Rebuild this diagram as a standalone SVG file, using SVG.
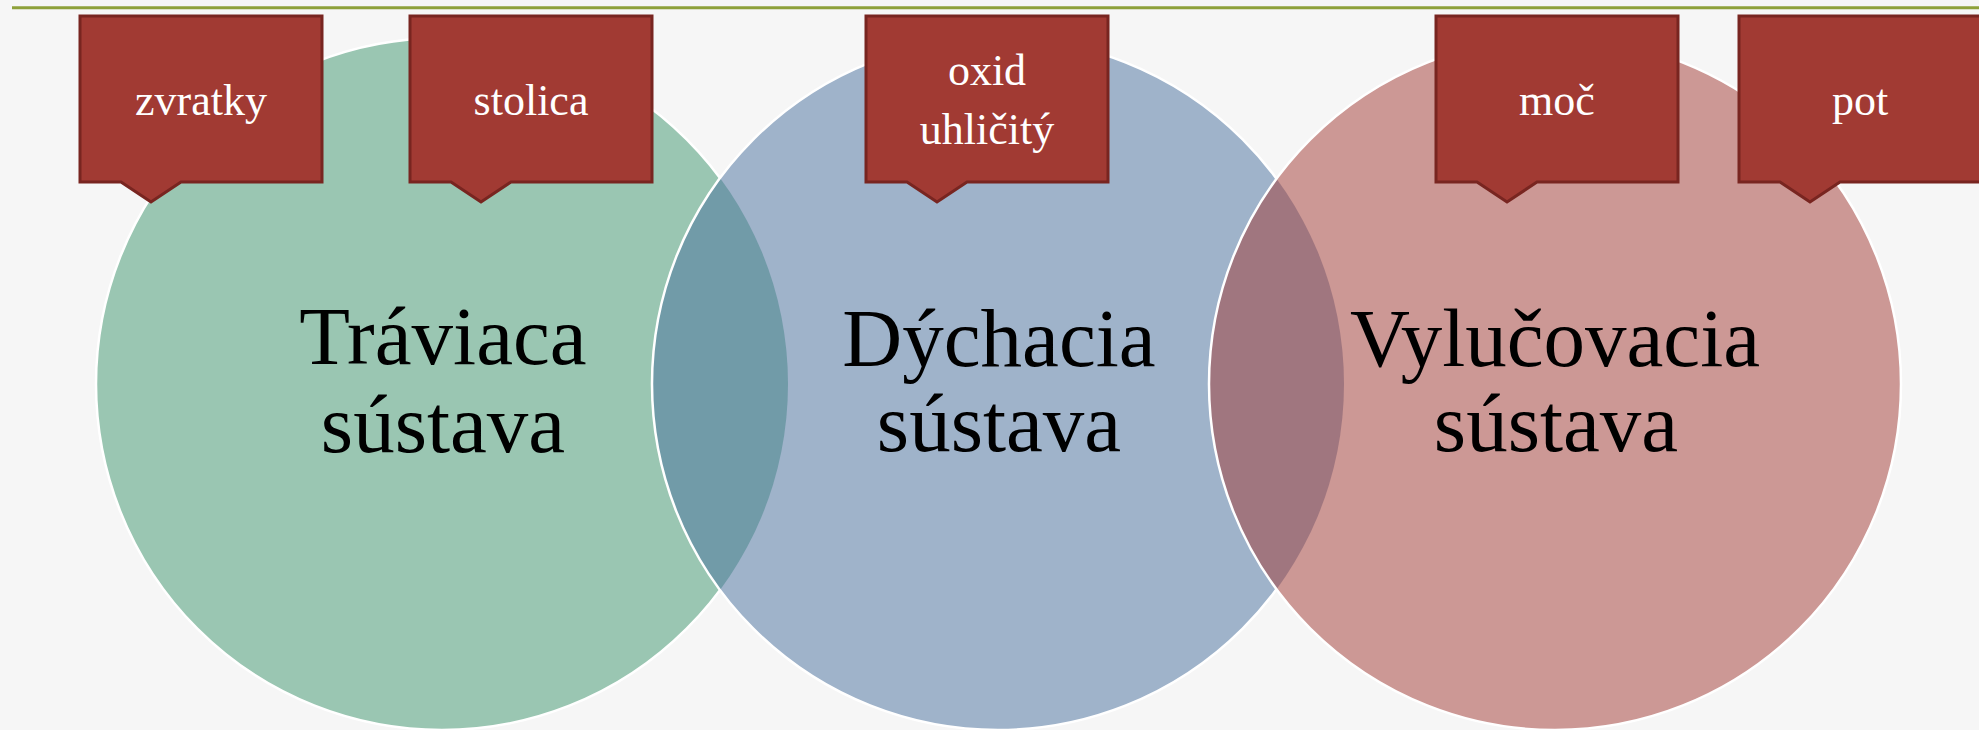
<svg xmlns="http://www.w3.org/2000/svg" width="1979" height="730" viewBox="0 0 1979 730">
<style>
.circ{fill-opacity:0.5;stroke:none}
.ring{fill:none;stroke:#ffffff;stroke-width:2.5}
.box{fill:#a13a33;stroke:#782520;stroke-width:3;stroke-linejoin:miter}
.small{font-family:"Liberation Serif","Times New Roman",serif;font-size:44px;fill:#ffffff;text-anchor:middle}
.big{font-family:"Liberation Serif","Times New Roman",serif;font-size:83px;fill:#000000;text-anchor:middle}
</style>
<defs>
<mask id="m2" maskUnits="userSpaceOnUse" x="0" y="0" width="1979" height="730">
<rect x="0" y="0" width="1979" height="730" fill="#fff"/>
<circle cx="998" cy="384" r="346" fill="#000"/>
</mask>
<mask id="m3" maskUnits="userSpaceOnUse" x="0" y="0" width="1979" height="730">
<rect x="0" y="0" width="1979" height="730" fill="#fff"/>
<circle cx="1555" cy="384" r="346" fill="#000"/>
</mask>
</defs>
<rect x="0" y="0" width="1979" height="730" fill="#f6f6f6"/>
<line x1="12" y1="7.8" x2="1979" y2="7.8" stroke="#8ea13a" stroke-width="3"/>
<g id="circles">
<circle id="c1" class="circ" cx="442" cy="384" r="346" fill="#3e966e"/>
<circle id="c2" class="circ" cx="998" cy="384" r="346" fill="#48709e"/>
<circle id="c3" class="circ" cx="1555" cy="384" r="346" fill="#a23a34"/>
<circle class="ring" cx="442" cy="384" r="346" mask="url(#m2)"/>
<circle class="ring" cx="998" cy="384" r="346" mask="url(#m3)"/>
<circle class="ring" cx="1555" cy="384" r="346"/>
</g>
<g id="node-traviaca">
<text class="big" x="443" y="364">Tráviaca</text>
<text class="big" x="443" y="452">sústava</text>
</g>
<g id="node-dychacia">
<text class="big" x="999" y="366">Dýchacia</text>
<text class="big" x="999" y="451">sústava</text>
</g>
<g id="node-vylucovacia">
<text class="big" x="1555" y="366">Vylučovacia</text>
<text class="big" x="1556" y="451">sústava</text>
</g>
<g id="node-zvratky">
<path class="box" d="M80,16 H322 V182 H181 L151,202 L121,182 H80 Z"/>
<text class="small" x="201" y="115">zvratky</text>
</g>
<g id="node-stolica">
<path class="box" d="M410,16 H652 V182 H511 L481,202 L451,182 H410 Z"/>
<text class="small" x="531" y="115">stolica</text>
</g>
<g id="node-oxid">
<path class="box" d="M866,16 H1108 V182 H967 L937,202 L907,182 H866 Z"/>
<text class="small" x="987" y="85">oxid</text>
<text class="small" x="987" y="144">uhličitý</text>
</g>
<g id="node-moc">
<path class="box" d="M1436,16 H1678 V182 H1537 L1507,202 L1477,182 H1436 Z"/>
<text class="small" x="1557" y="115">moč</text>
</g>
<g id="node-pot">
<path class="box" d="M1739,16 H1981 V182 H1840 L1810,202 L1780,182 H1739 Z"/>
<text class="small" x="1860" y="115">pot</text>
</g>
<g id="connectors"/>
</svg>
